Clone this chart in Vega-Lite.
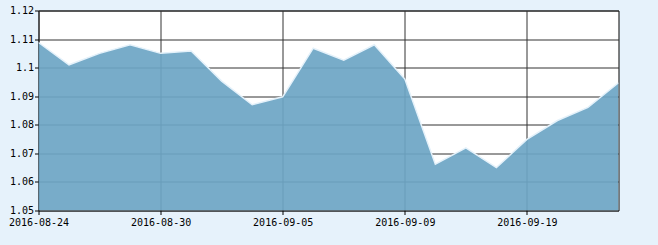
{
  "$schema": "https://vega.github.io/schema/vega-lite/v6.json",
  "width": 580,
  "height": 200,
  "autosize": "none",
  "padding": {"left": 38.5, "top": 10.5, "right": 39.5, "bottom": 34.5},
  "background": "#e6f2fb",
  "config": {
    "view": {"stroke": "#000000", "strokeWidth": 1, "fill": "#ffffff"},
    "axis": {
      "labelFont": "DejaVu Sans Mono",
      "labelFontSize": 10,
      "labelColor": "#000000",
      "grid": true,
      "gridColor": "#333333",
      "gridOpacity": 1,
      "gridWidth": 1,
      "domain": false,
      "tickColor": "#000000",
      "tickSize": 4,
      "title": null,
      "zindex": 0
    }
  },
  "data": {
    "values": [
      {"date": "2016-08-24", "nav": 1.1088},
      {"date": "2016-08-25", "nav": 1.1010},
      {"date": "2016-08-26", "nav": 1.1050},
      {"date": "2016-08-29", "nav": 1.1080},
      {"date": "2016-08-30", "nav": 1.1050},
      {"date": "2016-08-31", "nav": 1.1058},
      {"date": "2016-09-01", "nav": 1.0953},
      {"date": "2016-09-02", "nav": 1.0870},
      {"date": "2016-09-05", "nav": 1.0898},
      {"date": "2016-09-06", "nav": 1.1068},
      {"date": "2016-09-07", "nav": 1.1026},
      {"date": "2016-09-08", "nav": 1.1080},
      {"date": "2016-09-09", "nav": 1.0960},
      {"date": "2016-09-12", "nav": 1.0662},
      {"date": "2016-09-13", "nav": 1.0719},
      {"date": "2016-09-14", "nav": 1.0650},
      {"date": "2016-09-19", "nav": 1.0749},
      {"date": "2016-09-20", "nav": 1.0815},
      {"date": "2016-09-21", "nav": 1.0861},
      {"date": "2016-09-22", "nav": 1.0947}
    ]
  },
  "mark": {
    "type": "area",
    "color": "#6da5c4",
    "fillOpacity": 0.92,
    "clip": true,
    "line": {"color": "#e4f1fa", "strokeWidth": 1.5}
  },
  "encoding": {
    "x": {
      "field": "date",
      "type": "ordinal",
      "sort": null,
      "scale": {"type": "point", "padding": 0},
      "axis": {
        "values": ["2016-08-24", "2016-08-30", "2016-09-05", "2016-09-09", "2016-09-19"],
        "labelAngle": 0,
        "labelPadding": 3,
        "labelAlign": "center"
      }
    },
    "y": {
      "field": "nav",
      "type": "quantitative",
      "scale": {"domain": [1.05, 1.12], "zero": false, "nice": false},
      "axis": {
        "values": [1.05, 1.06, 1.07, 1.08, 1.09, 1.1, 1.11, 1.12],
        "format": ".2~f",
        "labelPadding": 1
      }
    },
    "y2": {"datum": 1.05}
  }
}
